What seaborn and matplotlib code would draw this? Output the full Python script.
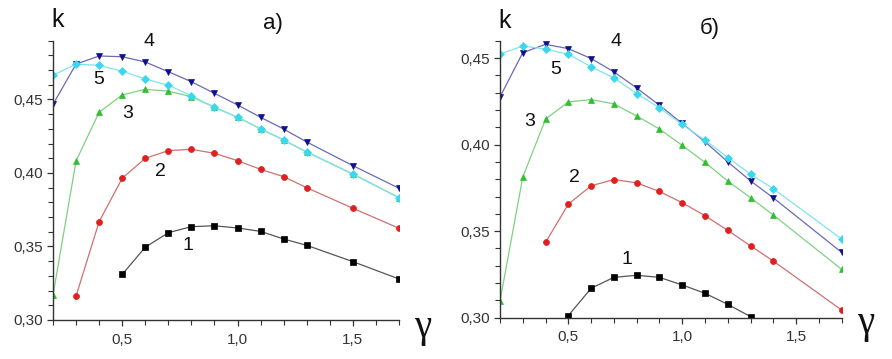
import numpy as np
import pandas as pd
import matplotlib
matplotlib.use('Agg')
import matplotlib.pyplot as plt
import seaborn as sns
from matplotlib.ticker import MultipleLocator, FuncFormatter

# panel a)
xa1 = [0.5, 0.6, 0.7, 0.8, 0.9, 1.0, 1.1, 1.2, 1.3, 1.5, 1.7]
ka1 = [0.331, 0.3495, 0.3594, 0.3635, 0.3641, 0.3626, 0.3603, 0.3551, 0.3508, 0.3397, 0.3279]
xa2 = [0.3, 0.4, 0.5, 0.6, 0.7, 0.8, 0.9, 1.0, 1.1, 1.2, 1.3, 1.5, 1.7]
ka2 = [0.3163, 0.3669, 0.3964, 0.410, 0.4152, 0.4161, 0.4134, 0.4084, 0.4025, 0.3975, 0.390, 0.376, 0.3624]
xa = [0.2, 0.3, 0.4, 0.5, 0.6, 0.7, 0.8, 0.9, 1.0, 1.1, 1.2, 1.3, 1.5, 1.7]
ka3 = [0.3168, 0.4082, 0.4413, 0.4531, 0.4569, 0.4557, 0.4519, 0.4447, 0.4379, 0.4301, 0.4224, 0.4143, 0.3993, 0.3832]
ka4 = [0.4467, 0.4741, 0.4796, 0.4791, 0.4755, 0.4689, 0.4621, 0.4542, 0.4463, 0.4379, 0.4299, 0.4211, 0.405, 0.3896]
ka5 = [0.4665, 0.4741, 0.4732, 0.4692, 0.464, 0.4597, 0.4526, 0.4447, 0.4379, 0.4301, 0.4224, 0.4143, 0.3993, 0.3832]

# panel б)
xb1 = [0.5, 0.6, 0.7, 0.8, 0.9, 1.0, 1.1, 1.2, 1.3]
kb1 = [0.3012, 0.317, 0.3233, 0.3245, 0.3233, 0.3189, 0.3141, 0.3077, 0.3006]
xb2 = [0.4, 0.5, 0.6, 0.7, 0.8, 0.9, 1.0, 1.1, 1.2, 1.3, 1.4, 1.7]
kb2 = [0.3435, 0.3656, 0.3762, 0.3798, 0.3779, 0.3729, 0.3664, 0.3589, 0.3504, 0.3415, 0.3327, 0.3044]
xb = [0.2, 0.3, 0.4, 0.5, 0.6, 0.7, 0.8, 0.9, 1.0, 1.1, 1.2, 1.3, 1.4, 1.7]
kb3 = [0.3096, 0.3812, 0.4147, 0.4246, 0.426, 0.4235, 0.4165, 0.409, 0.3995, 0.3897, 0.3789, 0.3693, 0.3593, 0.3279]
kb4 = [0.4275, 0.4531, 0.4579, 0.4554, 0.4497, 0.442, 0.4327, 0.4227, 0.4122, 0.4016, 0.39, 0.379, 0.3692, 0.3377]
kb5 = [0.4522, 0.457, 0.4551, 0.4522, 0.4449, 0.4385, 0.4295, 0.4212, 0.4116, 0.4025, 0.3925, 0.3829, 0.3745, 0.3454]

# (line colour, marker colour, marker, size)
styles = {
    1: ('#555555', '#000000', 's', 3.8),
    2: ('#d07070', '#e01f1f', 'o', 4.3),
    3: ('#80d080', '#2ec02e', '^', 4.6),
    4: ('#6a6ab8', '#10108e', 'v', 4.6),
    5: ('#80e4ec', '#3ad8ee', 'D', 3.8),
}

sns.set_theme(style='ticks')
plt.rcParams['font.family'] = ['Liberation Sans', 'DejaVu Sans']

W, H = 892, 359
fig = plt.figure(figsize=(W / 100, H / 100), dpi=100)


def px(x0, y0, x1, y1):
    return [x0 / W, 1 - y1 / H, (x1 - x0) / W, (y1 - y0) / H]


ax_a = fig.add_axes(px(53, 40.7, 399, 320))
ax_b = fig.add_axes(px(500, 40.7, 841.7, 317.7))

series_a = [(xa1, ka1, 1), (xa2, ka2, 2), (xa, ka3, 3), (xa, ka4, 4), (xa, ka5, 5)]
series_b = [(xb1, kb1, 1), (xb2, kb2, 2), (xb, kb3, 3), (xb, kb4, 4), (xb, kb5, 5)]

comma = FuncFormatter(lambda v, p: ('%.1f' % v).replace('.', ','))
comma2 = FuncFormatter(lambda v, p: ('%.2f' % v).replace('.', ','))

for ax, series, ymax in [(ax_a, series_a, 0.49), (ax_b, series_b, 0.46)]:
    for x, k, n in series:
        lc, mc, mk, ms = styles[n]
        sns.lineplot(x=x, y=k, ax=ax, color=lc, linewidth=0.9, marker=mk,
                     markersize=ms, markerfacecolor=mc, markeredgecolor=mc,
                     markeredgewidth=0.5)
    ax.set_xlim(0.2, 1.7)
    ax.set_ylim(0.30, ymax)
    ax.xaxis.set_major_locator(MultipleLocator(0.5))
    ax.xaxis.set_minor_locator(MultipleLocator(0.1))
    ax.yaxis.set_major_locator(MultipleLocator(0.05))
    ax.yaxis.set_minor_locator(MultipleLocator(0.01))
    ax.xaxis.set_major_formatter(comma)
    ax.yaxis.set_major_formatter(comma2)
    ax.tick_params(which='major', length=4, width=0.9, labelsize=11, color='#333333',
                   labelcolor='#333333', pad=3)
    ax.tick_params(which='minor', length=3.5, width=0.8, color='#333333')
    ax.tick_params(axis='x', which='major', pad=5)
    for s in ['top', 'right']:
        ax.spines[s].set_visible(False)
    for s in ['left', 'bottom']:
        ax.spines[s].set_linewidth(1.0)
        ax.spines[s].set_color('#333333')
    ax.set_xlabel('')
    ax.set_ylabel('')


def label(x, y, s, size=13, **kw):
    fig.text(x / W, 1 - y / H, s, ha='center', va='center', fontsize=size, color='#111111', **kw)


for x, y, s in [(149, 42, '4'), (99, 80, '5'), (128, 113, '3'), (160, 172, '2'), (188, 245, '1'),
                (616, 42, '4'), (556, 69, '5'), (530, 121, '3'), (574, 177, '2'), (627, 260, '1')]:
    label(x, y, s, 14)

label(58, 20, 'k', 18)
label(505, 21, 'k', 18)
label(273, 24, 'a)', 16)
label(710, 28, 'б)', 16)
label(423, 327, 'γ', 28, family=['Liberation Serif', 'DejaVu Serif'])
label(866, 324, 'γ', 28, family=['Liberation Serif', 'DejaVu Serif'])

fig.savefig('out.png', dpi=100)
